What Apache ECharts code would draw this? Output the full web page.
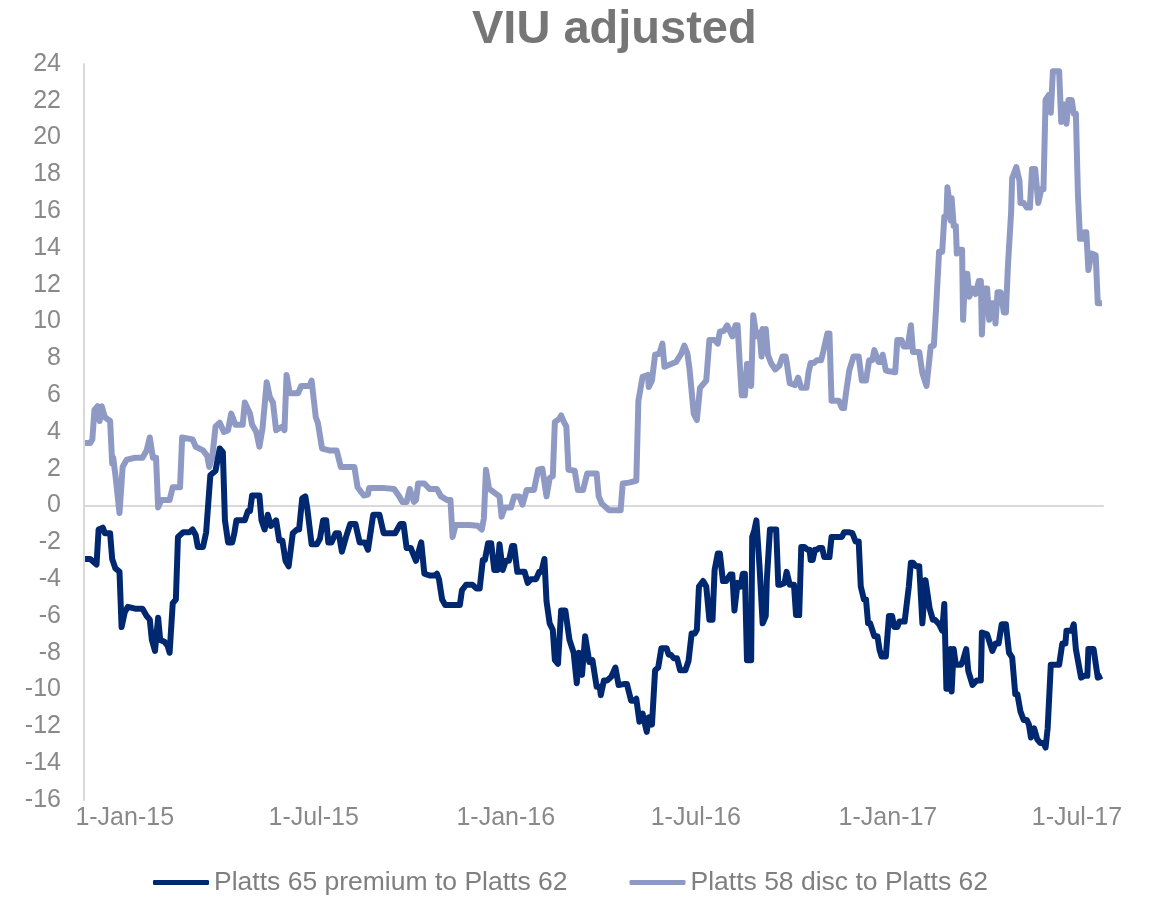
<!DOCTYPE html>
<html>
<head>
<meta charset="utf-8">
<title>VIU adjusted</title>
<script src="https://cdn.jsdelivr.net/npm/echarts@6/dist/echarts.min.js"></script>
<style>
  html, body { margin: 0; padding: 0; background: #fff; }
  #chart { width: 1152px; height: 898px; }
</style>
</head>
<body>
<div id="chart"></div>
<script>
// x values are days counted from 1-Jan-2015
const tickDays = [0, 181, 365, 547, 731, 912];
const tickLabels = ['1-Jan-15', '1-Jul-15', '1-Jan-16', '1-Jul-16', '1-Jan-17', '1-Jul-17'];

// Platts 65 premium to Platts 62
const premiumDays = [
  -38, -33, -29, -27, -25, -21, -19, -14, -12, -9,
  -5, -3, 0, 3, 10, 17, 21, 24, 26, 29,
  32, 34, 38, 41, 43, 46, 49, 51, 56, 62,
  65, 68, 70, 75, 78, 79, 82, 87, 91, 94,
  96, 99, 103, 105, 107, 115, 118, 120, 122, 129,
  131, 134, 137, 140, 145, 148, 151, 154, 157, 161,
  165, 167, 170, 173, 175, 179, 184, 187, 190, 193,
  195, 198, 202, 205, 208, 212, 216, 221, 225, 230,
  233, 234, 238, 244, 248, 259, 264, 267, 270, 274,
  276, 279, 284, 287, 292, 297, 299, 301, 304, 307,
  316, 321, 323, 327, 333, 337, 340, 343, 345, 348,
  351, 354, 357, 359, 362, 365, 368, 371, 373, 376,
  383, 386, 389, 394, 397, 399, 402, 404, 407, 410,
  412, 415, 418, 422, 426, 430, 433, 435, 438, 441,
  445, 448, 452, 455, 456, 459, 462, 466, 470, 473,
  478, 481, 485, 488, 490, 493, 496, 500, 502, 505,
  508, 511, 514, 519, 521, 523, 526, 529, 532, 537,
  540, 543, 546, 548, 550, 554, 557, 560, 563, 565,
  568, 570, 573, 576, 580, 582, 584, 587, 590, 592,
  594, 596, 600, 601, 603, 605, 606, 608, 611, 614,
  615, 618, 624, 626, 628, 632, 634, 635, 637, 641,
  643, 646, 648, 651, 654, 656, 657, 659, 661, 663,
  665, 668, 670, 675, 677, 681, 684, 687, 689, 694,
  697, 700, 703, 705, 708, 710, 712, 714, 718, 721,
  723, 725, 729, 732, 735, 737, 740, 742, 747, 751,
  753, 755, 758, 761, 764, 767, 768, 771, 774, 776,
  780, 783, 785, 787, 790, 791, 792, 794, 796, 801,
  803, 806, 808, 812, 816, 820, 821, 826, 831, 834,
  837, 840, 844, 847, 850, 853, 855, 858, 861, 864,
  866, 868, 871, 874, 877, 880, 882, 884, 887, 895,
  898, 901, 902, 907, 909, 911, 916, 919, 922, 923,
  928, 932, 936
];
const premiumValues = [
  -2.9, -2.9, -3.1, -3.2, -1.3, -1.2, -1.5, -1.5, -2.9, -3.4,
  -3.6, -6.6, -5.8, -5.5, -5.6, -5.6, -6.0, -6.2, -7.3, -7.9,
  -6.1, -7.3, -7.4, -7.6, -8.0, -5.3, -5.1, -1.7, -1.45, -1.45,
  -1.3, -1.6, -2.25, -2.25, -1.45, -1.45, 1.65, 1.9, 3.1, 2.9,
  -0.8, -2.0, -2.0, -1.5, -0.8, -0.8, -0.3, -0.3, 0.55, 0.55,
  -0.8, -1.3, -0.5, -1.1, -0.8, -1.9, -1.9, -3.0, -3.3, -1.5,
  -1.3, -1.3, 0.4, 0.5, -0.2, -2.1, -2.1, -1.8, -0.8, -0.8,
  -2.0, -2.0, -1.5, -1.5, -2.5, -1.7, -1.0, -1.0, -2.0, -2.0,
  -2.4, -2.4, -0.5, -0.5, -1.5, -1.5, -1.0, -1.0, -2.3, -2.3,
  -2.6, -3.0, -2.0, -3.7, -3.8, -3.8, -3.7, -4.0, -5.1, -5.4,
  -5.4, -5.4, -4.6, -4.3, -4.3, -4.5, -4.5, -2.95, -2.95, -2.05,
  -2.05, -3.5, -3.5, -2.1, -3.5, -3.0, -3.0, -2.2, -2.2, -3.6,
  -3.6, -4.2, -4.0, -4.0, -3.6, -3.6, -2.9, -5.2, -6.4, -6.75,
  -8.4, -8.6, -5.7, -5.7, -7.3, -8.0, -9.65, -8.0, -9.2, -7.1,
  -8.5, -8.4, -9.85, -9.85, -10.3, -9.5, -9.5, -9.3, -8.8, -9.75,
  -9.7, -9.7, -10.6, -10.6, -10.5, -11.75, -11.3, -12.3, -11.5, -11.9,
  -8.95, -8.8, -7.75, -7.75, -8.1, -8.1, -8.3, -8.3, -8.95, -8.95,
  -8.45, -6.95, -6.95, -6.75, -4.4, -4.1, -4.4, -6.2, -6.2, -3.5,
  -2.6, -2.6, -4.1, -4.1, -3.75, -3.75, -5.7, -4.2, -4.4, -3.7,
  -3.7, -8.4, -8.4, -1.7, -1.35, -0.8, -0.8, -3.3, -6.4, -6.0,
  -4.05, -1.3, -1.3, -4.3, -4.3, -4.2, -3.6, -3.6, -4.3, -4.3,
  -5.95, -5.95, -2.25, -2.25, -2.4, -2.4, -2.95, -2.95, -2.4, -2.4,
  -2.3, -2.3, -2.8, -2.8, -1.7, -1.7, -1.7, -1.7, -1.45, -1.45,
  -1.5, -1.95, -1.95, -4.4, -5.1, -5.1, -6.4, -6.4, -7.1, -7.1,
  -7.85, -8.2, -8.2, -6.0, -6.0, -6.6, -6.6, -6.3, -6.3, -4.4,
  -3.1, -3.1, -3.3, -3.3, -6.4, -4.05, -4.05, -5.6, -6.2, -6.2,
  -6.45, -6.8, -5.35, -9.95, -9.95, -7.8, -10.1, -7.8, -8.65, -8.65,
  -8.4, -7.8, -9.0, -9.75, -9.5, -9.5, -6.9, -7.0, -7.9, -7.5,
  -7.5, -6.45, -6.45, -8.0, -8.25, -10.25, -10.25, -11.2, -11.65, -11.65,
  -11.9, -12.6, -12.1, -12.7, -12.9, -12.9, -13.15, -12.1, -8.65, -8.65,
  -7.5, -7.5, -6.8, -6.8, -6.45, -7.8, -9.35, -9.25, -9.25, -7.8,
  -7.8, -9.35, -9.25
];

// Platts 58 disc to Platts 62
const discDays = [
  -38, -33, -31, -29, -26, -24, -22, -19, -14, -12,
  -11, -9, -5, -2, 2, 10, 17, 21, 24, 27,
  30, 32, 35, 43, 46, 53, 55, 65, 68, 75,
  79, 81, 84, 87, 91, 95, 99, 102, 106, 113,
  115, 120, 122, 126, 129, 132, 136, 139, 142, 145,
  151, 153, 155, 158, 166, 169, 177, 179, 183, 185,
  189, 196, 203, 207, 220, 223, 229, 233, 234, 249,
  258, 263, 266, 270, 273, 277, 279, 281, 287, 292,
  299, 303, 309, 312, 314, 317, 330, 338, 342, 344,
  346, 349, 353, 359, 361, 364, 370, 373, 378, 381,
  385, 392, 396, 400, 404, 407, 410, 412, 416, 418,
  421, 423, 425, 431, 434, 439, 443, 448, 452, 454,
  457, 460, 464, 475, 477, 483, 490, 492, 496, 501,
  502, 505, 508, 512, 515, 517, 528, 533, 536, 539,
  541, 545, 548, 551, 557, 560, 565, 568, 570, 574,
  577, 582, 585, 587, 589, 591, 594, 596, 598, 600,
  602, 605, 608, 610, 611, 612, 614, 616, 619, 623,
  627, 630, 633, 634, 637, 642, 645, 648, 653, 655,
  657, 660, 663, 667, 669, 673, 675, 677, 684, 687,
  689, 691, 694, 698, 703, 706, 710, 713, 716, 718,
  722, 724, 726, 729, 732, 738, 740, 744, 746, 750,
  753, 755, 761, 764, 768, 769, 772, 775, 777, 780,
  783, 785, 787, 788, 790, 791, 792, 794, 796, 797,
  800, 802, 803, 805, 807, 809, 812, 815, 818, 820,
  821, 823, 826, 828, 830, 833, 834, 836, 839, 842,
  844, 846, 849, 850, 854, 857, 858, 861, 864, 867,
  869, 872, 875, 878, 880, 882, 885, 887, 889, 895,
  897, 900, 901, 902, 904, 907, 909, 911, 913, 915,
  917, 919, 921, 923, 924, 926, 930, 932, 936
];
const discValues = [
  3.4, 3.4, 3.6, 5.2, 5.4, 4.6, 5.4, 4.8, 4.6, 2.3,
  2.6, 1.7, -0.4, 2.1, 2.5, 2.6, 2.6, 3.0, 3.7, 2.6,
  2.6, -0.1, 0.3, 0.3, 1.0, 1.0, 3.7, 3.6, 3.2, 3.0,
  2.7, 2.1, 2.7, 4.3, 4.5, 4.0, 4.1, 5.0, 4.4, 4.4,
  5.6, 5.0, 4.4, 4.0, 3.2, 4.2, 6.7, 5.9, 5.6, 4.1,
  4.3, 4.1, 7.1, 6.1, 6.1, 6.5, 6.5, 6.8, 4.8, 4.5,
  3.1, 3.0, 3.0, 2.1, 2.1, 1.0, 0.55, 0.6, 0.95, 0.95,
  0.9, 0.5, 0.2, 0.2, 0.9, 0.2, 0.3, 1.2, 1.2, 0.9,
  0.9, 0.5, 0.3, 0.3, -1.7, -1.05, -1.05, -1.1, -1.3, -0.7,
  1.95, 0.9, 0.75, 0.5, -0.6, -0.1, -0.1, 0.5, 0.5, 0.05,
  0.85, 0.85, 1.95, 2.0, 0.5, 1.5, 1.6, 4.55, 4.7, 4.9,
  4.5, 4.3, 1.95, 1.9, 0.85, 0.85, 1.75, 1.75, 1.75, 0.5,
  0.1, -0.05, -0.25, -0.25, 1.2, 1.25, 1.35, 5.7, 7.0, 7.1,
  6.45, 6.8, 8.2, 8.25, 8.8, 7.55, 7.8, 8.25, 8.7, 8.25,
  7.4, 5.0, 4.65, 6.4, 6.8, 9.0, 9.0, 8.8, 9.45, 9.5,
  9.8, 9.2, 9.8, 9.8, 7.8, 6.0, 6.0, 7.7, 7.7, 6.5,
  10.35, 9.2, 9.4, 8.1, 9.6, 8.7, 9.6, 8.2, 7.75, 7.4,
  7.6, 8.1, 8.1, 7.8, 6.65, 6.55, 6.95, 6.4, 6.4, 7.25,
  7.75, 7.75, 7.9, 7.9, 8.35, 9.35, 9.35, 5.7, 5.7, 5.3,
  5.3, 6.2, 7.35, 8.1, 8.1, 6.8, 6.8, 7.9, 7.9, 8.45,
  7.8, 7.8, 8.2, 7.35, 7.3, 7.25, 9.0, 9.0, 8.65, 8.65,
  9.8, 8.35, 8.35, 7.2, 6.5, 6.4, 8.65, 8.7, 10.6, 13.8,
  13.8, 15.7, 15.7, 17.3, 16.45, 15.5, 16.7, 15.2, 15.2, 13.7,
  13.9, 13.9, 10.1, 12.6, 12.6, 11.35, 11.8, 11.5, 12.2, 12.2,
  9.3, 11.8, 11.8, 10.1, 11.0, 11.0, 9.9, 11.6, 11.6, 10.5,
  10.5, 13.1, 15.95, 17.8, 18.4, 17.65, 16.45, 16.45, 16.2, 16.2,
  18.3, 18.3, 16.45, 17.2, 17.2, 22.05, 22.3, 21.35, 23.6, 23.6,
  20.85, 21.8, 21.8, 20.75, 22.05, 22.05, 21.3, 21.3, 16.9, 14.5,
  14.5, 14.85, 14.85, 12.8, 12.8, 13.7, 13.6, 11.0, 11.0
];

const FONT = '"Liberation Sans", Arial, Helvetica, sans-serif';
const LABEL_GREY = '#898989';
const AXIS_GREY = '#d9d9d9';
const DARK = '#002870';
const LIGHT = '#8e9ac3';

const toPairs = (days, values) => days.map((d, i) => [d, values[i]]);

const chart = echarts.init(document.getElementById('chart'));

chart.setOption({
  animation: false,
  textStyle: { fontFamily: FONT },
  title: {
    text: 'VIU adjusted',
    left: 467,
    top: 2,
    textStyle: { fontFamily: FONT, fontSize: 47, fontWeight: 'bold', color: '#767676' }
  },
  legend: {
    left: 148,
    top: 864,
    icon: 'roundRect',
    itemWidth: 56,
    itemHeight: 5,
    itemGap: 62,
    textStyle: { fontFamily: FONT, fontSize: 26.5, color: '#7f7f7f' },
    data: ['Platts 65 premium to Platts 62', 'Platts 58 disc to Platts 62']
  },
  grid: { left: 84, right: 49, top: 64, bottom: 98 },
  xAxis: [
    {
      type: 'value',
      min: -39,
      max: 937,
      axisLine: { show: false, onZero: false },
      axisTick: { show: false },
      splitLine: { show: false },
      axisLabel: {
        customValues: tickDays,
        formatter: (v) => tickLabels[tickDays.indexOf(v)] || '',
        fontFamily: FONT,
        fontSize: 25,
        color: LABEL_GREY,
        margin: 6
      }
    },
    {
      // zero line
      type: 'value',
      min: -39,
      max: 937,
      position: 'bottom',
      axisLine: { show: true, onZero: true, lineStyle: { color: AXIS_GREY, width: 2 } },
      axisTick: { show: false },
      axisLabel: { show: false },
      splitLine: { show: false }
    }
  ],
  yAxis: {
    type: 'value',
    min: -16,
    max: 24,
    interval: 2,
    axisLine: { show: true, onZero: false, lineStyle: { color: AXIS_GREY, width: 2 } },
    axisTick: { show: false },
    splitLine: { show: false },
    axisLabel: { fontFamily: FONT, fontSize: 25, color: LABEL_GREY, margin: 23 }
  },
  series: [
    {
      name: 'Platts 65 premium to Platts 62',
      type: 'line',
      xAxisIndex: 0,
      z: 3,
      symbol: 'none',
      data: toPairs(premiumDays, premiumValues),
      lineStyle: { width: 6, color: DARK, join: 'round' },
      itemStyle: { color: DARK }
    },
    {
      name: 'Platts 58 disc to Platts 62',
      type: 'line',
      xAxisIndex: 0,
      z: 2,
      symbol: 'none',
      data: toPairs(discDays, discValues),
      lineStyle: { width: 6, color: LIGHT, join: 'round' },
      itemStyle: { color: LIGHT }
    }
  ]
});

window.addEventListener('resize', () => chart.resize());
</script>
</body>
</html>
